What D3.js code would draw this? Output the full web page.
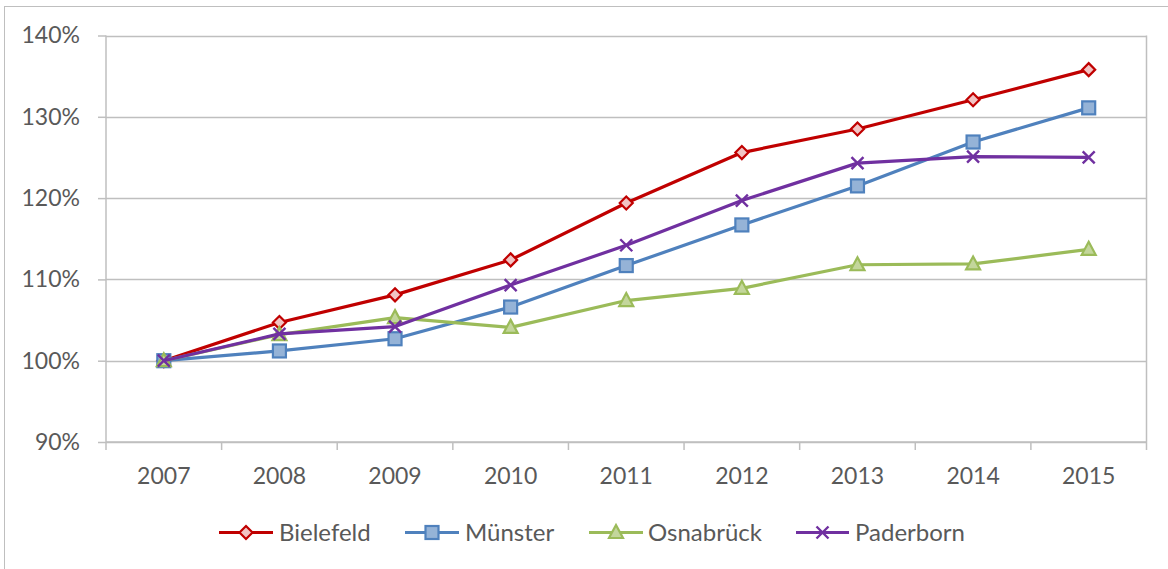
<!DOCTYPE html>
<html>
<head>
<meta charset="utf-8">
<script src="https://cdn.jsdelivr.net/npm/d3@7"></script>
<style>
  html, body { margin: 0; padding: 0; background: #fff; }
  svg { display: block; font-family: Lato, "Open Sans", sans-serif; }
</style>
</head>
<body>
<svg id="chart" width="1168" height="569"></svg>
<script>
// Years on the category axis
const years = ["2007", "2008", "2009", "2010", "2011", "2012", "2013", "2014", "2015"];

// Index values (2007 = 100%)
const bielefeld  = [100, 104.7, 108.1, 112.4, 119.4, 125.6, 128.5, 132.1, 135.8];
const muenster   = [100, 101.2, 102.7, 106.6, 111.7, 116.7, 121.5, 126.9, 131.1];
const osnabrueck = [100, 103.2, 105.3, 104.1, 107.4, 108.9, 111.8, 111.9, 113.7];
const paderborn  = [100, 103.3, 104.2, 109.3, 114.2, 119.7, 124.3, 125.1, 125.0];

// Value-axis ticks
const yTicks = [90, 100, 110, 120, 130, 140];

const series = [
  { name: "Bielefeld",  values: bielefeld,  color: "#C00000", fill: "#F2C4C4", marker: "diamond" },
  { name: "Münster",    values: muenster,   color: "#4F81BD", fill: "#95B3D7", marker: "square" },
  { name: "Osnabrück",  values: osnabrueck, color: "#9BBB59", fill: "#C3D69B", marker: "triangle" },
  { name: "Paderborn",  values: paderborn,  color: "#7030A0", fill: "none",    marker: "cross" }
];

const svg = d3.select("#chart");
const plot = { left: 106, right: 1146.5, top: 35.5, bottom: 442 };

// Outer chart border
svg.append("rect")
  .attr("x", 4.5).attr("y", 6.5)
  .attr("width", 1180).attr("height", 600)
  .attr("fill", "none").attr("stroke", "#BFBFBF").attr("stroke-width", 1);

const x = d3.scaleBand().domain(years).range([plot.left, plot.right]).paddingInner(0).paddingOuter(0);
const y = d3.scaleLinear().domain([90, 140]).range([plot.bottom, plot.top]);

// Horizontal gridlines
svg.append("g").selectAll("line").data(yTicks).join("line")
  .attr("x1", plot.left).attr("x2", plot.right)
  .attr("y1", d => Math.round(y(d)) + 0.5).attr("y2", d => Math.round(y(d)) + 0.5)
  .attr("stroke", "#BFBFBF").attr("stroke-width", 1.5);

// Right plot edge
svg.append("line")
  .attr("x1", plot.right).attr("x2", plot.right)
  .attr("y1", plot.top).attr("y2", plot.bottom)
  .attr("stroke", "#BFBFBF").attr("stroke-width", 1.5);

// Y axis
const yAxis = svg.append("g")
  .attr("transform", `translate(${plot.left},0)`)
  .call(d3.axisLeft(y).tickValues(yTicks).tickSize(8).tickPadding(18).tickFormat(d => d + "%"));
yAxis.select(".domain").attr("stroke", "#BFBFBF").attr("stroke-width", 1.5).attr("d", `M0,${plot.top}V${plot.bottom}`);
yAxis.selectAll(".tick line").attr("stroke", "#BFBFBF").attr("stroke-width", 1.5);
yAxis.selectAll(".tick text").attr("fill", "#595959").style("font-size", "23px").style("font-family", "Lato, sans-serif");

// X axis: tick marks at category boundaries, labels at centres
const xAxisG = svg.append("g").attr("transform", `translate(0,${plot.bottom})`);
xAxisG.append("line")
  .attr("x1", plot.left).attr("x2", plot.right).attr("y1", 0).attr("y2", 0)
  .attr("stroke", "#BFBFBF").attr("stroke-width", 1.5);
const boundaries = years.map(d => x(d)).concat([plot.right]);
xAxisG.selectAll("line.tick").data(boundaries).join("line")
  .attr("class", "tick")
  .attr("x1", d => d).attr("x2", d => d).attr("y1", 0).attr("y2", 8)
  .attr("stroke", "#BFBFBF").attr("stroke-width", 1.5);
xAxisG.selectAll("text").data(years).join("text")
  .attr("x", d => x(d) + x.bandwidth() / 2)
  .attr("y", 42)
  .attr("text-anchor", "middle")
  .attr("fill", "#595959")
  .style("font-size", "23px")
  .text(d => d);

const cx = d => x(d) + x.bandwidth() / 2;

// Marker shapes
function drawMarker(g, type, color, fill) {
  if (type === "diamond") {
    g.append("path").attr("d", "M0,-6.5L6.5,0L0,6.5L-6.5,0Z")
      .attr("fill", fill).attr("stroke", color).attr("stroke-width", 2.2);
  } else if (type === "square") {
    g.append("rect").attr("x", -6.5).attr("y", -6.5).attr("width", 13).attr("height", 13)
      .attr("fill", fill).attr("stroke", color).attr("stroke-width", 2.2);
  } else if (type === "triangle") {
    g.append("path").attr("d", "M0,-7.5L7,5.5L-7,5.5Z")
      .attr("fill", fill).attr("stroke", color).attr("stroke-width", 2.2);
  } else if (type === "cross") {
    g.append("path").attr("d", "M-6,-6L6,6M-6,6L6,-6")
      .attr("fill", "none").attr("stroke", color).attr("stroke-width", 2.4);
  }
}

const line = d3.line().x((d, i) => cx(years[i])).y(d => y(d));

series.forEach(s => {
  const g = svg.append("g");
  g.append("path").datum(s.values)
    .attr("d", line)
    .attr("fill", "none").attr("stroke", s.color).attr("stroke-width", 3.2)
    .attr("stroke-linejoin", "round");
  s.values.forEach((v, i) => {
    const m = g.append("g").attr("transform", `translate(${cx(years[i])},${y(v)})`);
    drawMarker(m, s.marker, s.color, s.fill);
  });
});

// Legend
const legendItems = [
  { x1: 219, x2: 273, tx: 279 },
  { x1: 405, x2: 459, tx: 465 },
  { x1: 589, x2: 643, tx: 648 },
  { x1: 796, x2: 849, tx: 855 }
];
const legendY = 532.5;
series.forEach((s, i) => {
  const li = legendItems[i];
  const g = svg.append("g");
  g.append("line").attr("x1", li.x1).attr("x2", li.x2).attr("y1", legendY).attr("y2", legendY)
    .attr("stroke", s.color).attr("stroke-width", 3.2);
  const m = g.append("g").attr("transform", `translate(${(li.x1 + li.x2) / 2},${legendY})`);
  drawMarker(m, s.marker, s.color, s.fill);
  g.append("text").attr("x", li.tx).attr("y", legendY + 8.5)
    .attr("fill", "#595959").style("font-size", "24px").text(s.name);
});
</script>
</body>
</html>
